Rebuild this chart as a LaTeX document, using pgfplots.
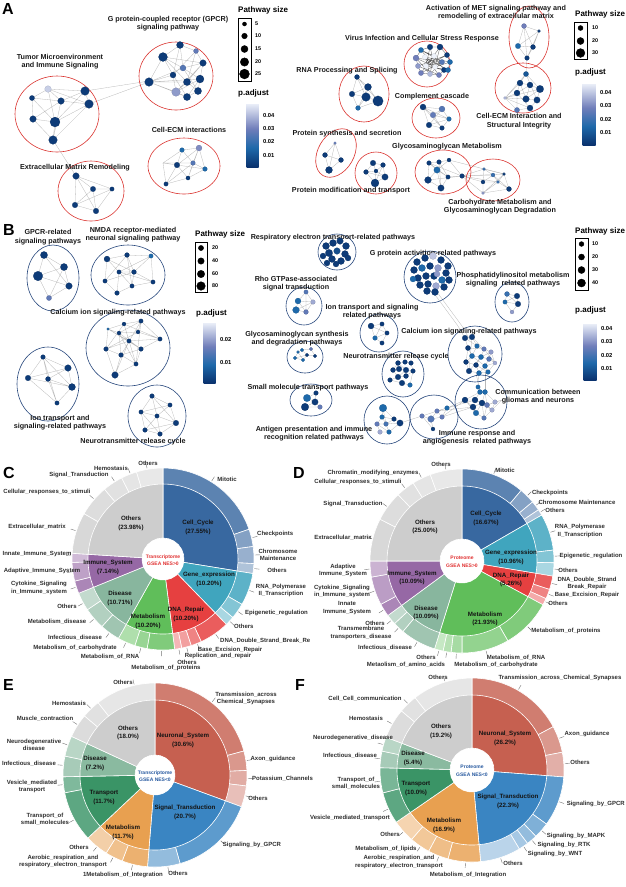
\documentclass[border=0pt]{standalone}
\usepackage{fontspec}
\setmainfont{Liberation Sans}
\usepackage{pgfplots}
\pgfplotsset{compat=1.18}
\usepackage{pgfplotstable}

\definecolor{redell}{RGB}{218,52,48}
\definecolor{blueell}{RGB}{40,72,125}
\definecolor{cCell}{RGB}{56,104,160}
\definecolor{cGene}{RGB}{64,165,190}
\definecolor{cDNA}{RGB}{230,64,64}
\definecolor{cMet}{RGB}{96,190,90}
\definecolor{cDis}{RGB}{136,182,158}
\definecolor{cImm}{RGB}{150,104,165}
\definecolor{cOth}{RGB}{205,205,205}
\definecolor{cNeu}{RGB}{198,96,80}
\definecolor{cSig}{RGB}{58,133,194}
\definecolor{cMetE}{RGB}{232,160,80}
\definecolor{cTra}{RGB}{58,148,102}
\definecolor{cDisE}{RGB}{138,186,160}
\definecolor{ctrRed}{RGB}{225,50,50}
\definecolor{ctrBlue}{RGB}{40,90,160}

\pgfplotsset{
  colormap={padj}{rgb255(0cm)=(10,50,110) rgb255(3cm)=(30,105,170) rgb255(6cm)=(112,126,186) rgb255(10cm)=(238,242,250)},
  netnodes/.style={scatter, only marks, mark=*, point meta=\thisrow{c},
    scatter/use mapped color={draw=mapped color!80!black, fill=mapped color},
    visualization depends on={\thisrow{s}\as\msz},
    scatter/@pre marker code/.append style={/tikz/mark size=\msz},
    mark options={line width=0.15pt}, forget plot},
  legnodes/.style={scatter, only marks, mark=*, point meta=\thisrow{s},
    scatter/use mapped color={draw=black, fill=black},
    visualization depends on={\thisrow{s}\as\msz},
    scatter/@pre marker code/.append style={/tikz/mark size=\msz}, forget plot},
  edge/.style={no markers, draw=black!28, line width=0.3pt, forget plot},
  dedge/.style={no markers, draw=black!65, line width=0.3pt, forget plot},
}
\tikzset{
  netl/.style={font=\fontsize{7.2}{8.6}\selectfont\bfseries, align=center, text=black!90, inner sep=0},
  legt/.style={font=\fontsize{8}{9}\selectfont\bfseries, anchor=west, inner sep=0},
  legn/.style={font=\fontsize{5.4}{6}\selectfont\bfseries, anchor=west, inner sep=0},
  outl/.style={font=\fontsize{6}{7.3}\selectfont\bfseries, align=center, text=black!82, inner sep=0},
  inl/.style={font=\fontsize{6.2}{8.6}\selectfont\bfseries, align=center, text=black!92, inner sep=0},
  ctr/.style={font=\fontsize{5}{7.5}\selectfont\bfseries, align=center, inner sep=0},
  ldr/.style={draw=black!55, line width=0.4pt},
  panl/.style={font=\fontsize{16}{16}\selectfont\bfseries, anchor=north west, inner sep=0},
}

% sunburst wedge: cx cy R p1 p2 colour (p in percent, clockwise from 12 o'clock)
\newcommand\sunw[6]{%
  \addplot[fill=#6, draw=white, line width=0.6pt, domain=#4:#5, samples=24, variable=\t, forget plot]
    ({#1+#3*cos(90-3.6*\t)},{#2-#3*sin(90-3.6*\t)}) -- (axis cs:#1,#2) -- cycle;}
% leader line: cx cy angle R
\newcommand\ld[4]{\draw[ldr] (axis cs:#1,#2) ++(#3:#4pt) -- ++(#3:5pt);}
% ellipse: cx cy rx ry colour
\newcommand\ellip[5]{\draw[#5, line width=0.6pt] (axis cs:#1,#2) ellipse [x radius=#3pt, y radius=#4pt];}

\newcommand\cbar[6]{%
\begin{axis}[at={(#1pt,-#2pt)}, anchor=north west, scale only axis, width=#3pt, height=#4pt,
  hide axis, xmin=0, xmax=1, ymin=0, ymax=1, colormap name=padj,
  point meta min=#5, point meta max=#6, colorbar,
  colorbar style={at={(parent axis.north west)}, anchor=north west, width=#3pt, height=#4pt,
    ytick={0.01,0.02,0.03,0.04}, scaled y ticks=false, axis line style={draw=none}, tick style={draw=none},
    yticklabel style={font=\fontsize{5.8}{6}\selectfont\bfseries, xshift=1pt,
      /pgf/number format/assume math mode=true, /pgf/number format/fixed,
      /pgf/number format/fixed zerofill, /pgf/number format/precision=2}}]
\addplot[draw=none] coordinates {(0.5,0.5)};
\end{axis}}

\begin{document}
\begin{tikzpicture}
\path[use as bounding box] (0,0) rectangle (626pt,-887pt);
\begin{axis}[at={(0,0)}, anchor=north west, scale only axis, width=626pt, height=887pt,
  xmin=0, xmax=626, ymin=0, ymax=887, y dir=reverse, hide axis, clip=false,
  colormap name=padj, point meta min=0, point meta max=1]

% ================= PANEL A (left network) =================
\addplot[edge] coordinates {(149,82)(163,57)(180,45)(196,51)(203,63)(200,79)(198,91)(187,97)(176,92)(149,82)(173,75)(180,45)(183,68)(203,63)(187,82)(176,92)(173,75)(163,57)(183,68)(200,79)(187,97)(173,75)(196,51)(187,82)(198,91)(183,68)(149,82)(187,82)(163,57)(203,63)(176,92)(200,79)(149,82)(187,97)};
\addplot[edge] coordinates {(89,104)(149,82)};
\addplot[edge] coordinates {(85,91)(149,81)};
\addplot[edge] coordinates {(48,89)(85,91)(89,104)(61,101)(48,89)(32,98)(33,119)(55,122)(53,140)(33,119)(61,101)(85,91)(55,122)(89,104)(53,140)(61,101)(32,98)(55,122)(48,89)(89,104)};
\addplot[edge] coordinates {(53,140)(76,176)};
\addplot[edge] coordinates {(76,176)(93,189)(112,189)(96,211)(75,205)(76,176)(112,189)(75,205)(93,189)(96,211)(76,176)};
\addplot[edge] coordinates {(182,150)(199,148)(205,169)(188,178)(166,184)(177,165)(182,150)(193,163)(205,169)(177,165)(199,148)(193,163)(188,178)(177,165)(163,163)(182,150)(163,163)(193,163)(163,163)(205,169)(163,163)(166,184)(193,163)(199,148)(188,178)};

\addplot[netnodes] table {
x y s c
180 45 3.5 0.05
163 57 4.5 0.05
196 51 2.5 0.55
203 63 3.3 0.05
183 68 3.0 0.5
173 75 3.0 0.05
149 82 4.3 0.05
187 82 3.6 0.05
200 79 4.0 0.05
176 92 4.3 0.7
198 91 3.6 0.05
187 97 3.6 0.05
48 89 3.3 0.88
85 91 4.3 0.05
32 98 2.6 0.05
61 101 3.3 0.05
89 104 4.3 0.05
33 119 3.3 0.05
55 122 5.0 0.05
53 140 4.3 0.05
76 176 3.3 0.05
93 189 2.7 0.05
112 189 2.2 0.05
75 205 2.8 0.05
96 211 2.8 0.05
182 150 2.3 0.3
199 148 3.0 0.65
177 165 2.8 0.05
193 163 2.3 0.5
205 169 2.3 0.3
188 178 2.1 0.05
166 184 2.2 0.05
};
\ellip{176}{76}{37}{34}{redell}
\ellip{57}{114}{42}{38}{redell}
\ellip{91}{191}{33}{30}{redell}
\ellip{184}{166}{36}{28}{redell}

\node[panl] at (axis cs:2,3) {A};
\node[netl] at (axis cs:168,23.5) {G protein-coupled receptor (GPCR)\\signaling pathway};
\node[netl] at (axis cs:60,61.5) {Tumor Microenvironment\\and Immune Signaling};
\node[netl] at (axis cs:189,130) {Cell-ECM interactions};
\node[netl] at (axis cs:75,168) {Extracellular Matrix Remodeling};

\draw[black, line width=0.6pt] (axis cs:238,18) rectangle (axis cs:251,81);
\addplot[legnodes] table {
x y s
244.5 24 2.0
244.5 36 2.8
244.5 49 3.5
244.5 62 4.2
244.5 74 4.9
};
\node[legt] at (axis cs:238,10) {Pathway size};
\node[legn] at (axis cs:255,24) {5};
\node[legn] at (axis cs:255,36) {10};
\node[legn] at (axis cs:255,49) {15};
\node[legn] at (axis cs:255,62) {20};
\node[legn] at (axis cs:255,74) {25};
\node[legt] at (axis cs:238,93) {p.adjust};

% ================= PANEL A (right network) =================
\addplot[edge] coordinates {(524,26)(539,31)(533,47)(527,58)(518,46)(524,26)(533,47)(518,46)(539,31)(527,58)(524,26)};
\addplot[edge] coordinates {(527,58)(526,74)};
\addplot[edge] coordinates {(505,98)(520,83)(505,98)(517,93)(505,98)(526,99)(505,98)(517,110)(505,98)(530,108)(505,98)(540,89)(505,98)(526,74)(520,83)(530,85)(540,89)(537,100)(530,108)(517,110)(517,93)(520,83)(526,99)(537,100)(526,74)(540,89)(526,99)(530,85)(517,93)(530,108)};
\addplot[dedge] coordinates {(421,50)(430,47)(440,47)(447,55)(450,62)(448,70)(444,70)(439,75)(430,74)(421,73)(418,66)(416,58)(421,50)(434,56)(444,70)(426,66)(440,47)(435,67)(416,58)(442,62)(421,73)(434,56)(430,74)(425,57)(448,70)(426,66)(430,47)(435,67)(450,62)(425,57)(439,75)(418,66)(447,55)(426,66)(442,62)(430,74)(416,58)(435,67)(421,50)(442,62)};
\addplot[edge] coordinates {(357,77)(368,87)(378,101)(366,97)(357,77)(352,94)(366,97)(358,108)(378,101)(357,77)(368,87)(352,94)(358,108)(368,87)(366,97)};
\addplot[edge] coordinates {(423,107)(442,109)(449,119)(442,128)(429,125)(423,107)(433,115)(442,109)(429,125)(449,119)(433,115)(442,128)(423,107)(449,119)};
\addplot[edge] coordinates {(335,143)(325,155)(329,170)(341,160)(335,143)(329,170)(325,155)(341,160)};
\addplot[edge] coordinates {(373,163)(383,165)(385,177)(375,183)(366,172)(373,163)(376,171)(385,177)(366,172)(376,171)(383,165)(375,183)(376,171)};
\addplot[edge] coordinates {(429,163)(439,162)(449,160)(462,176)(448,177)(441,188)(428,180)(429,163)(437,170)(449,160)(437,170)(448,177)(462,176)(428,180)(437,170)(441,188)(439,162)(448,177)(429,163)(462,176)};
\addplot[edge] coordinates {(484,169)(504,174)(509,189)(483,193)(483,182)(484,169)(493,175)(498,182)(509,189)(493,175)(483,182)(498,182)(504,174)(483,193)(498,182)};
\addplot[edge] coordinates {(462,176)(484,169)(462,176)(483,182)(462,176)(493,175)(462,176)(483,193)(462,176)(498,182)(462,176)(504,174)(449,160)(484,169)};

\addplot[netnodes] table {
x y s c
524 26 2.5 0.6
539 31 1.5 0.05
518 46 2.7 0.3
533 47 2.5 0.05
527 58 2.3 0.05
526 74 2.6 0.2
520 83 3.0 0.05
530 85 3.0 0.05
540 89 3.7 0.05
517 93 3.0 0.05
526 99 3.3 0.05
537 100 3.2 0.05
517 110 2.6 0.5
530 108 3.0 0.05
505 98 1.6 0.8
421 50 2.6 0.3
430 47 2.8 0.05
440 47 3.0 0.05
447 55 2.6 0.05
416 58 3.0 0.6
425 57 2.6 1.0
434 56 2.6 1.0
442 62 2.6 0.5
450 62 2.6 0.3
418 66 2.6 0.7
426 66 2.6 1.0
435 67 2.6 1.0
444 70 2.6 0.05
421 73 2.6 0.6
430 74 2.6 0.8
439 75 2.6 0.6
448 70 2.6 0.3
357 77 2.5 0.05
368 87 3.5 0.05
352 94 2.8 0.05
366 97 4.3 0.05
378 101 5.2 0.05
358 108 2.4 0.3
423 107 3.0 0.05
442 109 3.0 0.5
433 115 2.8 0.55
449 119 2.3 0.3
429 125 2.8 0.05
442 128 2.3 0.05
335 143 1.4 0.55
325 155 2.5 0.05
341 160 2.5 0.05
329 170 3.5 0.05
373 163 2.8 0.05
383 165 2.4 0.05
366 172 2.4 0.05
385 177 3.2 0.05
375 183 4.0 0.05
376 171 2.0 0.05
429 163 2.3 0.05
439 162 2.3 0.05
449 160 2.0 0.05
437 170 3.2 0.3
448 177 2.2 0.05
462 176 2.3 0.05
428 180 3.4 0.05
441 188 3.2 0.05
484 169 1.5 0.4
504 174 1.5 0.05
493 175 2.0 0.4
483 182 2.0 0.05
498 182 1.6 0.4
509 189 2.5 0.05
483 193 1.5 0.7
};
\ellip{529}{37}{20}{31}{redell}
\ellip{523}{88}{28}{25}{redell}
\ellip{427}{64}{23}{23}{redell}
\ellip{364}{94}{25}{28}{redell}
\ellip{436}{118}{24}{20}{redell}
\draw[redell, line width=0.6pt, shift={(axis cs:336,153)}, rotate=-30] (0,0) ellipse [x radius=18pt, y radius=26pt];
\ellip{376}{173}{21}{21}{redell}
\ellip{443}{172}{28}{22}{redell}
\ellip{493}{180}{27}{21}{redell}

\node[netl] at (axis cs:496,12.5) {Activation of MET signaling pathway and\\remodeling of extracellular matrix};
\node[netl] at (axis cs:422,39) {Virus Infection and Cellular Stress Response};
\node[netl] at (axis cs:347,71) {RNA Processing and Splicing};
\node[netl] at (axis cs:432,97) {Complement cascade};
\node[netl] at (axis cs:519,121) {Cell-ECM Interaction and\\Structural Integrity};
\node[netl] at (axis cs:347,134) {Protein synthesis and secretion};
\node[netl] at (axis cs:447,147) {Glycosaminoglycan Metabolism};
\node[netl] at (axis cs:351,191) {Protein modification and transport};
\node[netl] at (axis cs:500,206.5) {Carbohydrate Metabolism and\\Glycosaminoglycan Degradation};

\draw[black, line width=0.6pt] (axis cs:574,22) rectangle (axis cs:587,59);
\addplot[legnodes] table {
x y s
580.5 28 2.5
580.5 41 3.5
580.5 53 4.4
};
\node[legt] at (axis cs:575,14) {Pathway size};
\node[legn] at (axis cs:592,28) {10};
\node[legn] at (axis cs:592,41) {20};
\node[legn] at (axis cs:592,53) {30};
\node[legt] at (axis cs:575,72) {p.adjust};

% ================= PANEL B (left network) =================
\addplot[edge] coordinates {(44,255)(64,267)(69,286)(49,298)(38,276)(44,255)(69,286)(38,276)(64,267)(49,298)};
\addplot[edge] coordinates {(107,259)(127,255)(151,256)(153,282)(132,286)(117,293)(105,281)(107,259)(119,272)(134,272)(151,256)(119,272)(132,286)(134,272)(107,259)(132,286)(127,255)(134,272)(153,282)(119,272)(117,293)(105,281)(134,272)(127,255)(105,281)};
\addplot[edge] coordinates {(108,329)(124,324)(141,321)(160,339)(141,349)(136,364)(115,375)(106,349)(108,329)(119,333)(138,332)(160,339)(129,341)(108,329)(141,349)(119,333)(136,364)(124,324)(129,341)(106,349)(121,355)(141,321)(119,333)(121,355)(115,375)(129,341)(141,349)(121,355)(136,364)(141,321)(138,332)(106,349)(124,324)(160,339)};
\addplot[edge] coordinates {(43,357)(68,368)(72,387)(57,403)(28,378)(43,357)(48,379)(72,387)(28,378)(68,368)(48,379)(57,403)(43,357)(72,387)};
\addplot[edge] coordinates {(152,396)(170,405)(176,423)(160,434)(145,430)(141,412)(152,396)(157,416)(170,405)(141,412)(157,416)(176,423)(145,430)(157,416)(160,434)(141,412)(152,396)(176,423)};
\addplot[netnodes] table {
x y s c
44 255 3.6 0.05
64 267 3.6 0.05
38 276 4.8 0.05
69 286 3.3 0.05
49 298 2.6 0.55
107 259 3.0 0.05
127 255 2.4 0.05
151 256 2.2 0.3
119 272 2.2 0.05
134 272 2.4 0.05
105 281 2.2 0.05
132 286 2.2 0.05
153 282 2.2 0.05
117 293 2.3 0.05
108 329 1.3 0.3
124 324 2.0 0.05
141 321 2.2 0.05
119 333 2.0 0.05
138 332 2.0 0.05
129 341 2.2 0.05
160 339 2.2 0.05
106 349 2.3 0.05
121 355 2.3 0.05
141 349 2.3 0.05
136 364 2.2 0.05
115 375 3.3 0.05
43 357 2.3 0.05
68 368 3.3 0.05
28 378 2.8 0.05
48 379 2.5 0.05
72 387 3.5 0.05
57 403 2.2 0.05
152 396 2.3 0.05
141 412 2.2 0.05
157 416 2.2 0.05
170 405 2.2 0.05
176 423 2.8 0.05
145 430 2.3 0.05
160 434 2.3 0.05
};
\ellip{53}{278}{26}{33}{blueell}
\ellip{128}{275}{37}{30}{blueell}
\ellip{128}{348}{42}{38}{blueell}
\ellip{48}{384}{31}{37}{blueell}
\ellip{157}{416}{29}{31}{blueell}

\node[panl] at (axis cs:3,224) {B};
\node[netl] at (axis cs:48,237) {GPCR-related\\signaling pathways};
\node[netl] at (axis cs:133,234.5) {NMDA receptor-mediated\\neuronal signaling pathway};
\node[netl] at (axis cs:118,313) {Calcium ion signaling-related pathways};
\node[netl] at (axis cs:60,422.5) {Ion transport and\\signaling-related pathways};
\node[netl] at (axis cs:133,442) {Neurotransmitter release cycle};

\draw[black, line width=0.6pt] (axis cs:195,242) rectangle (axis cs:207,292);
\addplot[legnodes] table {
x y s
201 248 2.6
201 261 3.2
201 274 3.7
201 286 4.3
};
\node[legt] at (axis cs:195,234) {Pathway size};
\node[legn] at (axis cs:212,248) {20};
\node[legn] at (axis cs:212,261) {40};
\node[legn] at (axis cs:212,274) {60};
\node[legn] at (axis cs:212,286) {80};
\node[legt] at (axis cs:196,313) {p.adjust};

% ================= PANEL B (right network) =================
\addplot[edge] coordinates {(433,292)(458,326)(466,340)};
\addplot[edge] coordinates {(437,292)(462,326)(470,340)};
\addplot[edge] coordinates {(507,294)(517,296)(518,304)(512,312)(505,302)(507,294)(518,304)(505,302)(517,296)};
\addplot[edge] coordinates {(306,292)(298,301)(296,310)(306,312)(313,302)(306,292)(306,312)(298,301)(313,302)(296,310)};
\addplot[edge] coordinates {(371,326)(382,324)(387,333)(382,343)(375,338)(371,326)(387,333)(375,338)(382,324)};
\addplot[edge] coordinates {(302,350)(307,355)(303,360)(295,358)(298,352)(302,350)(311,349)(315,356)(307,355)(295,358)(298,352)(303,360)};
\addplot[edge] coordinates {(465,338)(472,337)(477,346)(484,349)(491,352)(489,359)(485,366)(488,372)(479,373)(469,371)(466,362)(468,348)(465,338)(477,346)(472,356)(481,357)(489,359)(495,363)(488,372)(476,365)(466,362)(472,356)(468,348)(484,349)(481,357)(476,365)(479,373)(485,366)(495,363)(491,352)(481,357)(469,371)(472,337)(484,349)(495,363)(485,366)(472,356)};
\addplot[edge] coordinates {(398,363)(405,362)(411,363)(413,371)(406,376)(398,377)(393,370)(398,363)(406,370)(413,371)(410,385)(402,383)(390,380)(398,377)(406,370)(399,369)(393,370)};
\addplot[edge] coordinates {(307,398)(315,402)(305,407)(320,407)(315,402)(316,393)(307,398)(305,407)};
\addplot[edge] coordinates {(479,373)(478,387)(480,392)(485,392)(487,405)(495,402)(492,410)(484,418)(476,413)(473,407)(465,400)(475,400)(482,403)(487,405)(492,410)(482,403)(473,407)(482,403)(484,418)(487,405)(475,400)(480,392)(465,400)(476,413)(482,403)(485,392)(495,402)(502,400)(487,405)(502,400)(492,410)(502,400)(484,418)};
\addplot[edge] coordinates {(485,372)(485,392)};
\addplot[edge] coordinates {(476,373)(480,392)};
\addplot[edge] coordinates {(383,408)(382,417)(394,419)(400,423)(389,432)(380,432)(377,424)(382,417)(386,424)(400,423)(394,419)(386,424)(389,432)(377,424)(386,424)(383,408)(394,419)};
\addplot[edge] coordinates {(400,423)(422,416)(431,419)(437,411)(447,408)(442,417)(431,419)(433,429)(422,416)(437,411)(442,417)};
\addplot[edge] coordinates {(447,408)(465,400)(442,417)(473,407)(437,411)(475,400)};

\addplot[netnodes] table {
x y s c
326 246 3.5 0.05
333 243 3.5 0.05
340 241 3.3 0.05
346 246 3.5 0.05
329 253 3.7 0.05
337 251 3.3 0.15
345 254 3.5 0.05
323 256 3.0 0.05
332 259 3.5 0.05
341 261 3.5 0.05
348 258 3.0 0.05
336 264 3.0 0.05
327 263 3.0 0.05
417 262 3.5 0.05
425 258 3.5 0.05
433 256 3.5 0.85
441 260 3.5 0.05
448 266 3.5 0.05
414 270 3.5 0.05
422 268 3.5 0.3
430 266 3.5 0.05
438 268 3.5 0.7
446 273 3.5 0.05
418 278 3.5 0.05
426 276 3.5 0.05
434 276 3.5 0.05
442 280 3.5 0.3
449 280 3.5 0.05
420 285 3.5 0.05
428 284 3.5 0.05
436 286 3.5 0.75
444 287 3.5 0.05
427 291 3.5 0.05
435 292 3.5 0.05
413 279 3.0 0.3
437 274 3.0 0.7
507 294 2.5 0.4
517 296 2.8 0.05
505 302 2.2 0.3
518 304 2.8 0.05
512 312 2.0 0.7
306 292 2.2 0.5
298 301 3.0 0.3
296 310 3.4 0.3
306 312 2.4 0.55
313 302 2.3 0.75
371 326 3.0 0.05
382 324 2.2 0.05
387 333 2.2 0.05
375 338 2.3 0.3
382 343 2.2 0.05
302 350 1.8 0.3
307 355 1.8 0.05
295 358 1.8 0.3
303 360 1.8 0.3
311 349 1.8 0.55
315 356 1.8 0.05
298 352 1.5 0.3
465 338 2.8 0.05
472 337 2.8 0.05
468 348 2.6 0.05
477 346 2.3 0.3
484 349 2.3 0.55
491 352 2.3 0.7
472 356 2.6 0.3
481 357 2.6 0.3
489 359 2.5 0.5
466 362 2.5 0.05
476 365 2.5 0.05
485 366 2.5 0.3
469 371 2.8 0.05
479 373 2.5 0.3
488 372 2.3 0.3
495 363 2.0 0.75
398 363 2.5 0.05
405 362 2.3 0.05
411 363 2.3 0.05
393 370 2.5 0.05
399 369 2.8 0.05
406 370 2.8 0.05
413 371 2.3 0.05
398 377 2.8 0.05
406 376 2.5 0.05
390 380 2.3 0.05
402 383 2.8 0.05
410 385 2.3 0.3
307 398 3.7 0.3
315 402 3.2 0.05
305 407 3.8 0.05
320 407 2.3 0.55
316 393 2.3 0.05
478 387 2.2 0.3
480 392 2.5 0.3
485 392 2.5 0.3
465 400 3.0 0.05
475 400 3.0 0.05
482 403 3.0 0.05
473 407 3.0 0.05
487 405 2.6 0.55
495 402 2.3 0.75
476 413 2.8 0.3
484 418 2.3 0.5
492 410 2.3 0.75
383 408 3.8 0.3
382 417 2.3 0.3
394 419 2.3 0.05
400 423 3.2 0.05
377 424 2.3 0.55
386 424 2.3 0.45
380 432 2.3 0.75
389 432 2.3 0.3
422 416 2.3 0.55
431 419 3.3 0.5
437 411 2.3 0.55
447 408 2.3 0.3
442 417 2.3 0.55
433 429 2.0 0.05
};
\ellip{337}{252}{19}{18}{blueell}
\ellip{430}{277}{26}{26}{blueell}
\ellip{512}{302}{17}{20}{blueell}
\ellip{304}{306}{18}{19}{blueell}
\ellip{379}{333}{19}{19}{blueell}
\ellip{305}{357}{18}{16}{blueell}
\ellip{475}{354}{27}{28}{blueell}
\ellip{403}{374}{21}{23}{blueell}
\ellip{311}{400}{21}{16}{blueell}
\ellip{481}{402}{26}{27}{blueell}
\ellip{387}{420}{23}{24}{blueell}
\ellip{434}{417}{24}{22}{blueell}

\node[netl] at (axis cs:333,238) {Respiratory electron transport-related pathways};
\node[netl] at (axis cs:433,254) {G protein activition-related pathways};
\node[netl] at (axis cs:513,279.5) {Phosphatidylinositol metabolism\\signaling\ \ related pathways};
\node[netl] at (axis cs:296,283.5) {Rho GTPase-associated\\signal transduction};
\node[netl] at (axis cs:372,311.5) {Ion transport and signaling\\related pathways};
\node[netl] at (axis cs:297,338.5) {Glycosaminoglycan synthesis\\and degradation pathways};
\node[netl] at (axis cs:469,332) {Calcium ion signaling-related pathways};
\node[netl] at (axis cs:396,357) {Neurotransmitter release cycle};
\node[netl] at (axis cs:308,388) {Small molecule transport pathways};
\node[netl] at (axis cs:538,396.5) {Communication between\\gliomas and neurons};
\node[netl] at (axis cs:314,433.5) {Antigen presentation and immune\\recognition related pathways};
\node[netl] at (axis cs:477,437.5) {Immune response and\\angiogenesis\ \ related pathways};

\draw[black, line width=0.6pt] (axis cs:575,238) rectangle (axis cs:588,290);
\addplot[legnodes] table {
x y s
581.5 244 2.4
581.5 257 3.0
581.5 270 3.5
581.5 283 4.0
};
\node[legt] at (axis cs:575,231) {Pathway size};
\node[legn] at (axis cs:592,244) {10};
\node[legn] at (axis cs:592,257) {20};
\node[legn] at (axis cs:592,270) {30};
\node[legn] at (axis cs:592,283) {40};
\node[legt] at (axis cs:575,310) {p.adjust};

% ================= PANEL C (sunburst) =================
\sunw{163}{559}{91}{0}{19.7}{cCell!82!white}
\sunw{163}{559}{91}{19.7}{22.8}{cCell!62!white}
\sunw{163}{559}{91}{22.8}{25.8}{cCell!52!white}
\sunw{163}{559}{91}{25.8}{27.55}{cCell!40!white}
\sunw{163}{559}{91}{27.55}{33.3}{cGene!85!white}
\sunw{163}{559}{91}{33.3}{36.1}{cGene!65!white}
\sunw{163}{559}{91}{36.1}{37.75}{cGene!45!white}
\sunw{163}{559}{91}{37.75}{43.1}{cDNA!85!white}
\sunw{163}{559}{91}{43.1}{45.0}{cDNA!65!white}
\sunw{163}{559}{91}{45.0}{46.7}{cDNA!50!white}
\sunw{163}{559}{91}{46.7}{47.95}{cDNA!38!white}
\sunw{163}{559}{91}{47.95}{52.8}{cMet!80!white}
\sunw{163}{559}{91}{52.8}{55.0}{cMet!65!white}
\sunw{163}{559}{91}{55.0}{58.15}{cMet!50!white}
\sunw{163}{559}{91}{58.15}{61.7}{cDis!80!white}
\sunw{163}{559}{91}{61.7}{65.6}{cDis!65!white}
\sunw{163}{559}{91}{65.6}{68.86}{cDis!50!white}
\sunw{163}{559}{91}{68.86}{71.1}{cImm!80!white}
\sunw{163}{559}{91}{71.1}{74.4}{cImm!62!white}
\sunw{163}{559}{91}{74.4}{76.0}{cImm!45!white}
\sunw{163}{559}{91}{76.0}{83.3}{cOth!78!white}
\sunw{163}{559}{91}{83.3}{88.9}{cOth!68!white}
\sunw{163}{559}{91}{88.9}{92.5}{cOth!60!white}
\sunw{163}{559}{91}{92.5}{95.3}{cOth!52!white}
\sunw{163}{559}{91}{95.3}{100}{cOth!45!white}
\sunw{163}{559}{75}{0}{27.55}{cCell}
\sunw{163}{559}{75}{27.55}{37.75}{cGene}
\sunw{163}{559}{75}{37.75}{47.95}{cDNA}
\sunw{163}{559}{75}{47.95}{58.15}{cMet}
\sunw{163}{559}{75}{58.15}{68.86}{cDis}
\sunw{163}{559}{75}{68.86}{76.00}{cImm}
\sunw{163}{559}{75}{76.00}{100}{cOth}
\sunw{163}{559}{21}{0}{100}{white}

\node[panl] at (axis cs:3,467) {C};
\node[inl] at (axis cs:131,523.5) {Others\\(23.98\%)};
\node[inl] at (axis cs:198,527.5) {Cell\_Cycle\\(27.55\%)};
\node[inl] at (axis cs:108,567.5) {Immune\_System\\(7.14\%)};
\node[inl] at (axis cs:209,579.5) {Gene\_expression\\(10.20\%)};
\node[inl] at (axis cs:120,598.5) {Disease\\(10.71\%)};
\node[inl] at (axis cs:148,621.5) {Metabolism\\(10.20\%)};
\node[inl] at (axis cs:186,614.5) {DNA\_Repair\\(10.20\%)};
\node[ctr, text=ctrRed] at (axis cs:163,560) {Transcriptome\\GSEA NES>0};

\ld{163}{559}{58}{92}
\ld{163}{559}{13.5}{92}
\ld{163}{559}{2.5}{92}
\ld{163}{559}{-6}{92}
\ld{163}{559}{-20}{92}
\ld{163}{559}{-35}{92}
\ld{163}{559}{-43}{92}
\ld{163}{559}{-55}{92}
\ld{163}{559}{-68}{92}
\ld{163}{559}{-75}{92}
\ld{163}{559}{-80}{92}
\ld{163}{559}{-91}{92}
\ld{163}{559}{-104}{92}
\ld{163}{559}{-114}{92}
\ld{163}{559}{-126}{92}
\ld{163}{559}{-139}{92}
\ld{163}{559}{-151}{92}
\ld{163}{559}{-162}{92}
\ld{163}{559}{-172}{92}
\ld{163}{559}{178}{92}
\ld{163}{559}{162}{92}
\ld{163}{559}{139}{92}
\ld{163}{559}{122}{92}
\ld{163}{559}{111}{92}
\ld{163}{559}{100}{92}
\node[outl] at (axis cs:227,479) {Mitotic};
\node[outl, anchor=west] at (axis cs:257,534) {Checkpoints};
\node[outl] at (axis cs:278,554.5) {Chromosome\\Maintenance};
\node[outl] at (axis cs:277,570) {Others};
\node[outl] at (axis cs:281,590.5) {RNA\_Polymerase\\II\_Transcription};
\node[outl, anchor=west] at (axis cs:245,613) {Epigenetic\_regulation};
\node[outl, anchor=west] at (axis cs:234,626) {Others};
\node[outl, anchor=west] at (axis cs:220,641) {DNA\_Double\_Strand\_Break\_Re};
\node[outl] at (axis cs:230,650) {Base\_Excision\_Repair};
\node[outl] at (axis cs:218,656) {Replication\_and\_repair};
\node[outl] at (axis cs:187,662) {Others};
\node[outl] at (axis cs:166,668) {Metabolism\_of\_proteins};
\node[outl] at (axis cs:110,657) {Metabolism\_of\_RNA};
\node[outl] at (axis cs:75,648) {Metabolism\_of\_carbohydrate};
\node[outl] at (axis cs:75,638) {Infectious\_disease};
\node[outl] at (axis cs:57,622) {Metabolism\_disease};
\node[outl] at (axis cs:67,606) {Others};
\node[outl] at (axis cs:39,588) {Cytokine\_Signaling\\in\_Immune\_system};
\node[outl] at (axis cs:42,571) {Adaptive\_Immune\_System};
\node[outl] at (axis cs:37,554) {Innate\_Immune\_System};
\node[outl] at (axis cs:37,527) {Extracellular\_matrix};
\node[outl] at (axis cs:47,492) {Cellular\_responses\_to\_stimuli};
\node[outl] at (axis cs:79,475) {Signal\_Transduction};
\node[outl] at (axis cs:111,468) {Hemostasis};
\node[outl] at (axis cs:148,463) {Others};

% ================= PANEL D (sunburst) =================
\sunw{462}{561}{92}{0}{11.1}{cCell!82!white}
\sunw{462}{561}{92}{11.1}{13.9}{cCell!62!white}
\sunw{462}{561}{92}{13.9}{15.6}{cCell!52!white}
\sunw{462}{561}{92}{15.6}{16.67}{cCell!40!white}
\sunw{462}{561}{92}{16.67}{23.1}{cGene!85!white}
\sunw{462}{561}{92}{23.1}{25.3}{cGene!65!white}
\sunw{462}{561}{92}{25.3}{27.63}{cGene!45!white}
\sunw{462}{561}{92}{27.63}{30.0}{cDNA!85!white}
\sunw{462}{561}{92}{30.0}{31.7}{cDNA!65!white}
\sunw{462}{561}{92}{31.7}{32.89}{cDNA!45!white}
\sunw{462}{561}{92}{32.89}{41.7}{cMet!80!white}
\sunw{462}{561}{92}{41.7}{50.0}{cMet!68!white}
\sunw{462}{561}{92}{50.0}{51.9}{cMet!56!white}
\sunw{462}{561}{92}{51.9}{53.3}{cMet!46!white}
\sunw{462}{561}{92}{53.3}{54.82}{cMet!36!white}
\sunw{462}{561}{92}{54.82}{61.1}{cDis!80!white}
\sunw{462}{561}{92}{61.1}{63.1}{cDis!65!white}
\sunw{462}{561}{92}{63.1}{64.91}{cDis!50!white}
\sunw{462}{561}{92}{64.91}{67.2}{cImm!80!white}
\sunw{462}{561}{92}{67.2}{72.2}{cImm!65!white}
\sunw{462}{561}{92}{72.2}{75.0}{cImm!50!white}
\sunw{462}{561}{92}{75.0}{82.5}{cOth!78!white}
\sunw{462}{561}{92}{82.5}{87.8}{cOth!68!white}
\sunw{462}{561}{92}{87.8}{91.1}{cOth!60!white}
\sunw{462}{561}{92}{91.1}{94.4}{cOth!52!white}
\sunw{462}{561}{92}{94.4}{100}{cOth!45!white}
\sunw{462}{561}{75}{0}{16.67}{cCell}
\sunw{462}{561}{75}{16.67}{27.63}{cGene}
\sunw{462}{561}{75}{27.63}{32.89}{cDNA}
\sunw{462}{561}{75}{32.89}{54.82}{cMet}
\sunw{462}{561}{75}{54.82}{64.91}{cDis}
\sunw{462}{561}{75}{64.91}{75.00}{cImm}
\sunw{462}{561}{75}{75.00}{100}{cOth}
\sunw{462}{561}{22}{0}{100}{white}

\node[panl] at (axis cs:293,467) {D};
\node[inl] at (axis cs:425,527) {Others\\(25.00\%)};
\node[inl] at (axis cs:486,518.5) {Cell\_Cycle\\(16.67\%)};
\node[inl] at (axis cs:511,557.5) {Gene\_expression\\(10.96\%)};
\node[inl] at (axis cs:511,580) {DNA\_Repair\\(5.26\%)};
\node[inl] at (axis cs:412,578) {Immune\_System\\(10.09\%)};
\node[inl] at (axis cs:426,613) {Disease\\(10.09\%)};
\node[inl] at (axis cs:485,619) {Metabolism\\(21.93\%)};
\node[ctr, text=ctrRed] at (axis cs:462,562) {Proteome\\GSEA NES>0};

\ld{462}{561}{70}{93}
\ld{462}{561}{45}{93}
\ld{462}{561}{37}{93}
\ld{462}{561}{32}{93}
\ld{462}{561}{18}{93}
\ld{462}{561}{3}{93}
\ld{462}{561}{-5}{93}
\ld{462}{561}{-14}{93}
\ld{462}{561}{-21}{93}
\ld{462}{561}{-26}{93}
\ld{462}{561}{-45}{93}
\ld{462}{561}{-75}{93}
\ld{462}{561}{-93.5}{93}
\ld{462}{561}{-99.5}{93}
\ld{462}{561}{-104.5}{93}
\ld{462}{561}{-119}{93}
\ld{462}{561}{-133.5}{93}
\ld{462}{561}{-140}{93}
\ld{462}{561}{-148}{93}
\ld{462}{561}{-161}{93}
\ld{462}{561}{-175}{93}
\ld{462}{561}{166}{93}
\ld{462}{561}{144}{93}
\ld{462}{561}{128}{93}
\ld{462}{561}{116}{93}
\ld{462}{561}{100}{93}
\node[outl] at (axis cs:505,470) {Mitotic};
\node[outl] at (axis cs:550,493) {Checkpoints};
\node[outl] at (axis cs:577,502) {Chromosome Maintenance};
\node[outl] at (axis cs:555,510) {Others};
\node[outl] at (axis cs:580,531) {RNA\_Polymerase\\II\_Transcription};
\node[outl] at (axis cs:591,556) {Epigenetic\_regulation};
\node[outl] at (axis cs:568,570) {Others};
\node[outl] at (axis cs:587,583.5) {DNA\_Double\_Strand\\Break\_Repair};
\node[outl] at (axis cs:587,595) {Base\_Excision\_Repair};
\node[outl] at (axis cs:558,603) {Others};
\node[outl] at (axis cs:566,631) {Metabolism\_of\_proteins};
\node[outl] at (axis cs:516,658) {Metabolism\_of\_RNA};
\node[outl] at (axis cs:496,665) {Metabolism\_of\_carbohydrate};
\node[outl] at (axis cs:406,665) {Metaolism\_of\_amino\_acids};
\node[outl] at (axis cs:426,657) {Others};
\node[outl] at (axis cs:385,648) {Infectious\_disease};
\node[outl] at (axis cs:361,633) {Transmembrane\\transporters\_disease};
\node[outl] at (axis cs:375,623) {Others};
\node[outl] at (axis cs:347,608) {Innate\\Immune\_System};
\node[outl] at (axis cs:342,591.5) {Cytokine\_Signaling\\in\_Immune\_system};
\node[outl] at (axis cs:343,570.5) {Adaptive\\Immune\_System};
\node[outl] at (axis cs:343,538) {Extracellular\_matrix};
\node[outl] at (axis cs:353,504) {Signal\_Transduction};
\node[outl] at (axis cs:358,482) {Cellular\_responses\_to\_stimuli};
\node[outl] at (axis cs:373,473) {Chromatin\_modifying\_enzymes};
\node[outl] at (axis cs:441,464) {Others};

% ================= PANEL E (sunburst) =================
\sunw{155}{775}{92}{0}{20.8}{cNeu!82!white}
\sunw{155}{775}{92}{20.8}{24.2}{cNeu!65!white}
\sunw{155}{775}{92}{24.2}{26.9}{cNeu!52!white}
\sunw{155}{775}{92}{26.9}{30.6}{cNeu!40!white}
\sunw{155}{775}{92}{30.6}{45.6}{cSig!82!white}
\sunw{155}{775}{92}{45.6}{51.3}{cSig!55!white}
\sunw{155}{775}{92}{51.3}{55.8}{cMetE!82!white}
\sunw{155}{775}{92}{55.8}{58.9}{cMetE!65!white}
\sunw{155}{775}{92}{58.9}{63.0}{cMetE!50!white}
\sunw{155}{775}{92}{63.0}{71.9}{cTra!82!white}
\sunw{155}{775}{92}{71.9}{74.7}{cTra!65!white}
\sunw{155}{775}{92}{74.7}{78.3}{cDisE!75!white}
\sunw{155}{775}{92}{78.3}{81.9}{cDisE!60!white}
\sunw{155}{775}{92}{81.9}{86.1}{cOth!70!white}
\sunw{155}{775}{92}{86.1}{89.4}{cOth!60!white}
\sunw{155}{775}{92}{89.4}{100}{cOth!50!white}
\sunw{155}{775}{75}{0}{30.6}{cNeu}
\sunw{155}{775}{75}{30.6}{51.3}{cSig}
\sunw{155}{775}{75}{51.3}{63.0}{cMetE}
\sunw{155}{775}{75}{63.0}{74.7}{cTra}
\sunw{155}{775}{75}{74.7}{81.9}{cDisE}
\sunw{155}{775}{75}{81.9}{100}{cOth}
\sunw{155}{775}{20}{0}{100}{white}

\node[panl] at (axis cs:3,679) {E};
\node[inl] at (axis cs:128,733) {Others\\(18.0\%)};
\node[inl] at (axis cs:183,740.5) {Neuronal\_System\\(30.6\%)};
\node[inl] at (axis cs:95,763.5) {Disease\\(7.2\%)};
\node[inl] at (axis cs:104,797.5) {Transport\\(11.7\%)};
\node[inl] at (axis cs:185,812.5) {Signal\_Transduction\\(20.7\%)};
\node[inl] at (axis cs:123,832.5) {Metabolism\\(11.7\%)};
\node[ctr, text=ctrBlue] at (axis cs:155,776) {Transcriptome\\GSEA NES<0};

\ld{155}{775}{103}{93}
\ld{155}{775}{52}{93}
\ld{155}{775}{9}{93}
\ld{155}{775}{-2}{93}
\ld{155}{775}{-13}{93}
\ld{155}{775}{-45}{93}
\ld{155}{775}{-82}{93}
\ld{155}{775}{-104}{93}
\ld{155}{775}{-117}{93}
\ld{155}{775}{-129}{93}
\ld{155}{775}{-151}{93}
\ld{155}{775}{-174}{93}
\ld{155}{775}{174}{93}
\ld{155}{775}{161}{93}
\ld{155}{775}{147}{93}
\ld{155}{775}{134}{93}
\node[outl] at (axis cs:123,682) {Others};
\node[outl] at (axis cs:246,698.5) {Transmission\_across\\Chemical\_Synapses};
\node[outl] at (axis cs:273,759) {Axon\_guidance};
\node[outl, anchor=west] at (axis cs:252,779) {Potassium\_Channels};
\node[outl] at (axis cs:258,798) {Others};
\node[outl] at (axis cs:252,845) {Signaling\_by\_GPCR};
\node[outl] at (axis cs:178,873) {Others};
\node[outl] at (axis cs:123,875) {1Metabolism\_of\_Integration};
\node[outl] at (axis cs:63,861.5) {Aerobic\_respiration\_and\\respiratory\_electron\_transport};
\node[outl] at (axis cs:79,847) {Others};
\node[outl] at (axis cs:45,819.5) {Transport\_of\\small\_molecules};
\node[outl] at (axis cs:32,786.5) {Vesicle\_mediated\\transport};
\node[outl] at (axis cs:29,764) {Infectious\_disease};
\node[outl] at (axis cs:34,744.5) {Neurodegenerative\\disease};
\node[outl] at (axis cs:45,719) {Muscle\_contraction};
\node[outl] at (axis cs:69,703) {Hemostasis};

% ================= PANEL F (sunburst) =================
\sunw{472}{770}{92}{0}{17.2}{cNeu!82!white}
\sunw{472}{770}{92}{17.2}{21.9}{cNeu!65!white}
\sunw{472}{770}{92}{21.9}{26.2}{cNeu!50!white}
\sunw{472}{770}{92}{26.2}{35.0}{cSig!82!white}
\sunw{472}{770}{92}{35.0}{37.8}{cSig!65!white}
\sunw{472}{770}{92}{37.8}{39.7}{cSig!55!white}
\sunw{472}{770}{92}{39.7}{41.4}{cSig!45!white}
\sunw{472}{770}{92}{41.4}{48.5}{cSig!35!white}
\sunw{472}{770}{92}{48.5}{54.2}{cMetE!82!white}
\sunw{472}{770}{92}{54.2}{57.8}{cMetE!68!white}
\sunw{472}{770}{92}{57.8}{61.4}{cMetE!58!white}
\sunw{472}{770}{92}{61.4}{65.4}{cMetE!45!white}
\sunw{472}{770}{92}{65.4}{71.0}{cTra!82!white}
\sunw{472}{770}{92}{71.0}{75.4}{cTra!68!white}
\sunw{472}{770}{92}{75.4}{78.3}{cDisE!75!white}
\sunw{472}{770}{92}{78.3}{80.8}{cDisE!60!white}
\sunw{472}{770}{92}{80.8}{86.1}{cOth!70!white}
\sunw{472}{770}{92}{86.1}{89.4}{cOth!60!white}
\sunw{472}{770}{92}{89.4}{100}{cOth!50!white}
\sunw{472}{770}{75}{0}{26.2}{cNeu}
\sunw{472}{770}{75}{26.2}{48.5}{cSig}
\sunw{472}{770}{75}{48.5}{65.4}{cMetE}
\sunw{472}{770}{75}{65.4}{75.4}{cTra}
\sunw{472}{770}{75}{75.4}{80.8}{cDisE}
\sunw{472}{770}{75}{80.8}{100}{cOth}
\sunw{472}{770}{22}{0}{100}{white}

\node[panl] at (axis cs:295,679) {F};
\node[inl] at (axis cs:441,731.5) {Others\\(19.2\%)};
\node[inl] at (axis cs:505,738.5) {Neuronal\_System\\(26.2\%)};
\node[inl] at (axis cs:413,758.5) {Disease\\(5.4\%)};
\node[inl] at (axis cs:416,788.5) {Transport\\(10.0\%)};
\node[inl] at (axis cs:508,801.5) {Signal\_Transduction\\(22.3\%)};
\node[inl] at (axis cs:444,825.5) {Metabolism\\(16.9\%)};
\node[ctr, text=ctrBlue] at (axis cs:472,771) {Proteome\\GSEA NES<0};

\ld{472}{770}{107}{93}
\ld{472}{770}{60}{93}
\ld{472}{770}{20}{93}
\ld{472}{770}{4}{93}
\ld{472}{770}{-20}{93}
\ld{472}{770}{-41}{93}
\ld{472}{770}{-49.5}{93}
\ld{472}{770}{-56}{93}
\ld{472}{770}{-72}{93}
\ld{472}{770}{-94}{93}
\ld{472}{770}{-111}{93}
\ld{472}{770}{-124}{93}
\ld{472}{770}{-138}{93}
\ld{472}{770}{-155}{93}
\ld{472}{770}{-173}{93}
\ld{472}{770}{173}{93}
\ld{472}{770}{164}{93}
\ld{472}{770}{150}{93}
\ld{472}{770}{134}{93}
\node[outl] at (axis cs:438,677) {Others};
\node[outl] at (axis cs:560,678) {Transmission\_across\_Chemical\_Synapses};
\node[outl] at (axis cs:587,734) {Axon\_guidance};
\node[outl] at (axis cs:580,762) {Others};
\node[outl, anchor=east] at (axis cs:625,804) {Signaling\_by\_GPCR};
\node[outl] at (axis cs:576,836) {Signaling\_by\_MAPK};
\node[outl] at (axis cs:564,845) {Signaling\_by\_RTK};
\node[outl] at (axis cs:555,854) {Signaling\_by\_WNT};
\node[outl] at (axis cs:513,863) {Others};
\node[outl] at (axis cs:468,875) {Metabolism\_of\_Integration};
\node[outl] at (axis cs:399,862) {Aerobic\_respiration\_and\\respiratory\_electron\_transport};
\node[outl] at (axis cs:386,849) {Metabolism\_of\_lipids};
\node[outl] at (axis cs:390,834) {Others};
\node[outl] at (axis cs:350,818) {Vesicle\_mediated\_transport};
\node[outl] at (axis cs:356,783) {Transport\_of\\small\_molecules};
\node[outl] at (axis cs:350,756) {Infectious\_disease};
\node[outl] at (axis cs:353,738) {Neurodegenerative\_disease};
\node[outl] at (axis cs:366,718) {Hemostasis};
\node[outl] at (axis cs:365,699) {Cell\_Cell\_communication};
\end{axis}

\cbar{238}{103}{12}{64}{0.001}{0.049}
\cbar{574}{83}{13}{62}{0.0012}{0.0466}
\cbar{195}{322}{12}{61}{0.0009}{0.0274}
\cbar{575}{323}{13}{57}{0.0008}{0.0446}
\end{tikzpicture}
\end{document}
